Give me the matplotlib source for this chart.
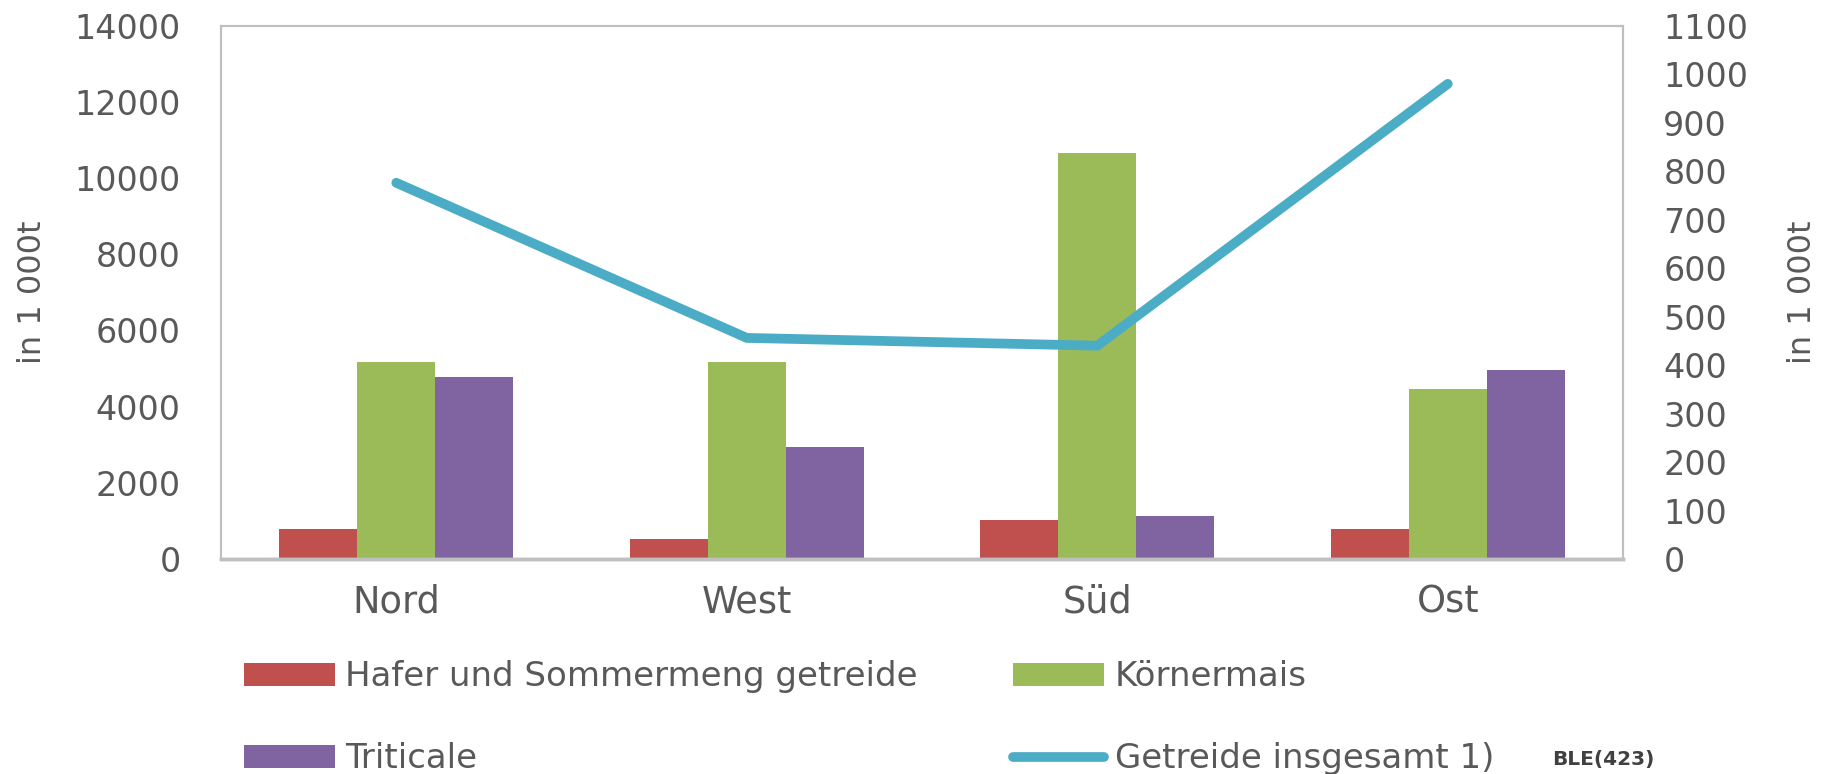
import numpy as np
import matplotlib
matplotlib.use("Agg")
from matplotlib import pyplot as plt
from matplotlib.patches import Patch
from matplotlib.lines import Line2D

# data (in 1 000 t)
regionen = ["Nord", "West", "Süd", "Ost"]
hafer = [790, 520, 1020, 790]
koernermais = [5170, 5170, 10660, 4460]
triticale = [4780, 2940, 1130, 4960]
getreide_gesamt = [776, 456, 440, 980]

serien = ["Hafer und Sommermeng getreide", "Körnermais", "Triticale", "Getreide insgesamt 1)"]

ROT = "#C0504D"
GRUEN = "#9BBB59"
LILA = "#8064A2"
TUERKIS = "#4BACC6"
TEXT = "#595959"
RAHMEN = "#BFBFBF"

plt.rcParams["font.family"] = ["DejaVu Sans"]

fig = plt.figure(figsize=(18.22, 7.74), dpi=100)
ax = fig.add_axes([0.1213, 0.2778, 0.7695, 0.689])

x = np.arange(len(regionen))
w = 1 / 4.5  # Excel gap width 150%
ax.bar(x - w, hafer, w, color=ROT)
ax.bar(x, koernermais, w, color=GRUEN)
ax.bar(x + w, triticale, w, color=LILA)

ax.set_xlim(-0.5, len(regionen) - 0.5)
ax.set_ylim(0, 14000)
ax.set_yticks(np.arange(0, 14001, 2000))
ax.set_xticks(x)
ax.set_xticklabels(regionen)

ax2 = ax.twinx()
ax2.plot(x, getreide_gesamt, color=TUERKIS, lw=7, solid_capstyle="round", solid_joinstyle="miter")
ax2.set_ylim(0, 1100)
ax2.set_yticks(np.arange(0, 1101, 100))

for a in (ax, ax2):
    for s in a.spines.values():
        s.set_color(RAHMEN)
        s.set_linewidth(1.5)
    a.spines["bottom"].set_linewidth(2.5)
    a.tick_params(axis="y", length=0, pad=29, labelsize=24, labelcolor=TEXT)
ax.tick_params(axis="x", length=0, pad=18, labelsize=26.5, labelcolor=TEXT)

ax.set_ylabel("in 1 000t", fontsize=23, color=TEXT)
ax.yaxis.set_label_coords(-0.1234, 0.5)
ax2.set_ylabel("in 1 000t", fontsize=23, color=TEXT, rotation=90)
ax2.yaxis.set_label_coords(1.117, 0.5)

handles = [
    Patch(facecolor=ROT),
    Patch(facecolor=LILA),
    Patch(facecolor=GRUEN),
    Line2D([0], [0], color=TUERKIS, lw=7, solid_capstyle="round"),
]
labels = [serien[0], serien[2], serien[1], serien[3]]
leg = fig.legend(handles, labels, ncol=2, loc="center left",
                 bbox_to_anchor=(0.1339, 0.0724), frameon=False,
                 borderpad=0, borderaxespad=0, fontsize=24.5,
                 handlelength=2.68, handleheight=0.62, handletextpad=0.3,
                 columnspacing=2.8, labelspacing=1.44)
for t in leg.get_texts():
    t.set_color(TEXT)

fig.text(1603 / 1822, 1 - 760 / 774, "BLE(423)", fontsize=14.5, fontweight="bold",
         color="#404040", ha="center", va="center")

fig.savefig("out.png", dpi=100)
